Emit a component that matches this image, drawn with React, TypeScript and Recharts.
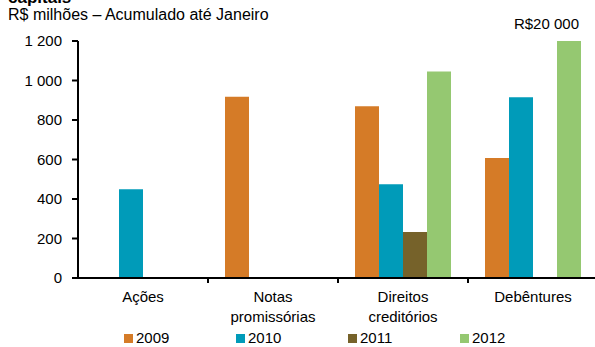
import React from 'react';
import { BarChart, Bar, XAxis, YAxis, Legend, LabelList } from 'recharts';

const categories = ['Ações', 'Notas\npromissórias', 'Direitos\ncreditórios', 'Debêntures'];
const s2009 = [0, 918, 870, 608];
const s2010 = [450, 0, 475, 915];
const s2011 = [0, 0, 233, 0];
const s2012 = [0, 0, 1045, 20000];
const yTicks = [0, 200, 400, 600, 800, 1000, 1200];

const SERIES = [
  { key: '2009', values: s2009, color: '#D57B27' },
  { key: '2010', values: s2010, color: '#009BB9' },
  { key: '2011', values: s2011, color: '#76622A' },
  { key: '2012', values: s2012, color: '#95C871' },
];

const FONT = '"Liberation Sans", Arial, sans-serif';
const Y_MAX = 1200;
const CHART_W = 600;
const PLOT_LEFT = 78;
const PLOT_RIGHT = 2;
const BAND = (CHART_W - PLOT_LEFT - PLOT_RIGHT) / categories.length;

const data = categories.map((name, i) => {
  const row: Record<string, string | number> = { name };
  SERIES.forEach(s => { row[s.key] = s.values[i]; });
  return row;
});

const fmt = (v: number) => String(v).replace(/\B(?=(\d{3})+(?!\d))/g, ' ');

// category label plus an Excel-style tick mark on the left boundary of each band
const CategoryTick = (props: any) => {
  const { x, y, payload, index } = props;
  const lines = String(payload.value).split('\n');
  return (
    <g>
      {index > 0 && (
        <line x1={x - BAND / 2} x2={x - BAND / 2} y1={y - 5} y2={y + 1} stroke="#000" strokeWidth={2} />
      )}
      <text x={x} y={y} textAnchor="middle" fontSize={15} fontFamily={FONT} fill="#000">
        {lines.map((l, i) => (
          <tspan key={i} x={x} dy={i === 0 ? 20 : 20}>{l}</tspan>
        ))}
      </text>
    </g>
  );
};

// bars cut off by the axis maximum get their value written just above the clipped top
const OverflowLabel = (props: any) => {
  const { x, y, width, height, value } = props;
  if (value <= Y_MAX) return null;
  const bottom = y + height;
  const top = bottom - (Y_MAX * height) / value;
  return (
    <text x={x + width - 2} y={top - 12} textAnchor="end" fontSize={15} fontFamily={FONT} fill="#000">
      R${fmt(value)}
    </text>
  );
};

const LegendContent = (props: any) => {
  const { payload } = props;
  return (
    <div style={{ display: 'flex', height: 18, fontFamily: FONT, fontSize: 15, color: '#000', lineHeight: '18px' }}>
      {payload.map((p: any) => (
        <div key={p.value} style={{ width: 112, display: 'flex', alignItems: 'center' }}>
          <span style={{ width: 9, height: 9, background: p.color, marginRight: 3, display: 'inline-block' }} />
          {p.value}
        </div>
      ))}
    </div>
  );
};

export default function App() {
  return (
    <div style={{ position: 'absolute', left: 0, top: 0, width: 595, height: 347, overflow: 'hidden', background: '#fff' }}>
      <div style={{ position: 'absolute', left: 8, top: -12, fontFamily: FONT, fontSize: 17, fontWeight: 700, color: '#000', lineHeight: '20px' }}>
        capitais
      </div>
      <div style={{ position: 'absolute', left: 8, top: 6, fontFamily: FONT, fontSize: 16, color: '#000', lineHeight: '18px' }}>
        R$ milhões – Acumulado até Janeiro
      </div>
      <BarChart
        width={CHART_W}
        height={347}
        data={data}
        margin={{ top: 41, right: PLOT_RIGHT, left: 0, bottom: 0 }}
        barCategoryGap={17}
        barGap={0}
      >
        <XAxis
          dataKey="name"
          height={51}
          axisLine={{ stroke: '#000', strokeWidth: 2 }}
          tickLine={false}
          tickSize={0}
          tick={<CategoryTick />}
          tickMargin={4}
          interval={0}
        />
        <YAxis
          width={PLOT_LEFT}
          domain={[0, Y_MAX]}
          ticks={yTicks}
          allowDataOverflow
          axisLine={{ stroke: '#000', strokeWidth: 2 }}
          tickLine={{ stroke: '#000', strokeWidth: 2 }}
          tickSize={6}
          tickMargin={10}
          tickFormatter={fmt}
          tick={{ fill: '#000', fontSize: 15, fontFamily: FONT }}
        />
        <Legend
          content={<LegendContent />}
          wrapperStyle={{ top: 329, left: 124, width: 460 }}
        />
        {SERIES.map(s => (
          <Bar key={s.key} dataKey={s.key} fill={s.color} isAnimationActive={false}>
            {s.key === '2012' && <LabelList dataKey={s.key} content={<OverflowLabel />} />}
          </Bar>
        ))}
      </BarChart>
    </div>
  );
}
